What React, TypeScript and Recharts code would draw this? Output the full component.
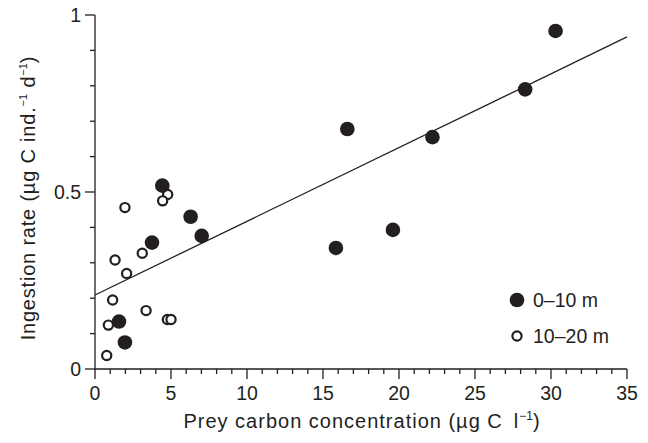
import React from "react";
import {
  ScatterChart,
  Scatter,
  XAxis,
  YAxis,
  ReferenceLine,
  Legend,
} from "recharts";

const INK = "#231f20";
const FONT = "'Liberation Sans', Arial, Helvetica, sans-serif";

// 0–10 m (filled)
const shallowX = [30.3, 28.3, 22.2, 16.6, 19.6, 15.85, 4.43, 6.29, 7.02, 3.75, 1.58, 1.97];
const shallowY = [0.955, 0.79, 0.655, 0.678, 0.393, 0.342, 0.518, 0.43, 0.376, 0.357, 0.134, 0.075];

// 10–20 m (open)
const deepX = [4.78, 4.45, 1.97, 3.11, 1.32, 2.08, 1.16, 3.36, 0.88, 4.76, 5.0, 0.77];
const deepY = [0.493, 0.475, 0.456, 0.327, 0.308, 0.27, 0.195, 0.165, 0.124, 0.14, 0.14, 0.038];

// regression line end points
const fitX = [0, 35];
const fitY = [0.209, 0.938];

const xTicks = Array.from({ length: 36 }, (_, i) => i);
const yTicks = Array.from({ length: 11 }, (_, i) => i / 10);

const toPoints = (xs: number[], ys: number[]) => xs.map((x, i) => ({ x, y: ys[i] }));

const shallow = toPoints(shallowX, shallowY);
const deep = toPoints(deepX, deepY);

const XTick = (props: any) => {
  const { x, y, payload } = props;
  const major = payload.value % 5 === 0;
  return (
    <g>
      <line x1={x} y1={y} x2={x} y2={y + (major ? 10 : 5)} stroke={INK} strokeWidth={1.3} />
      {major && (
        <text x={x} y={y + 31} textAnchor="middle" fontSize={19.5} fill={INK} fontFamily={FONT}>
          {payload.value}
        </text>
      )}
    </g>
  );
};

const YTick = (props: any) => {
  const { x, y, payload } = props;
  const v = Math.round(payload.value * 10);
  const major = v % 5 === 0;
  const label = v === 0 ? "0" : v === 10 ? "1" : "0.5";
  return (
    <g>
      <line x1={x} y1={y} x2={x - (major ? 10 : 5)} y2={y} stroke={INK} strokeWidth={1.3} />
      {major && (
        <text x={x - 14} y={y + 7} textAnchor="end" fontSize={19.5} fill={INK} fontFamily={FONT}>
          {label}
        </text>
      )}
    </g>
  );
};

const FilledDot = (props: any) => <circle cx={props.cx} cy={props.cy} r={7.3} fill={INK} />;
const OpenDot = (props: any) => (
  <circle cx={props.cx} cy={props.cy} r={4.6} fill="#fff" stroke={INK} strokeWidth={2.2} />
);

const XLabel = (props: any) => {
  const { x, y, width } = props.viewBox;
  return (
    <text
      x={x + width / 2 + 1}
      y={y + 59}
      textAnchor="middle"
      fontSize={20}
      letterSpacing={1}
      fill={INK}
      fontFamily={FONT}
    >
      Prey carbon concentration (µg C{"\u2002"}l
      <tspan dy={-8} fontSize={12} letterSpacing={0}>−1</tspan>
      <tspan dy={8}>)</tspan>
    </text>
  );
};

const YLabel = (props: any) => {
  const { y, height } = props.viewBox;
  const cx = 35;
  const cy = y + height / 2 + 6;
  return (
    <text
      x={cx}
      y={cy}
      transform={`rotate(-90, ${cx}, ${cy})`}
      textAnchor="middle"
      fontSize={20}
      letterSpacing={0.8}
      fill={INK}
      fontFamily={FONT}
    >
      Ingestion rate (µg C ind.
      <tspan dy={-8} fontSize={11} letterSpacing={0}>−1</tspan>
      <tspan dy={8}> d</tspan>
      <tspan dy={-8} fontSize={11} letterSpacing={0}>−1</tspan>
      <tspan dy={8}>)</tspan>
    </text>
  );
};

const LegendContent = () => (
  <div style={{ fontFamily: FONT, fontSize: 19.5, color: INK, lineHeight: "36px" }}>
    <div style={{ display: "flex", alignItems: "center" }}>
      <svg width={16} height={16} style={{ marginRight: 8 }}>
        <circle cx={8} cy={8} r={7.3} fill={INK} />
      </svg>
      0–10 m
    </div>
    <div style={{ display: "flex", alignItems: "center" }}>
      <svg width={16} height={16} style={{ marginRight: 8 }}>
        <circle cx={8} cy={8} r={4.6} fill="#fff" stroke={INK} strokeWidth={2.2} />
      </svg>
      10–20 m
    </div>
  </div>
);

export default function App() {
  return (
    <div style={{ margin: "-8px 0 0 -8px" }}>
      <ScatterChart
        width={648}
        height={443}
        margin={{ top: 15, right: 21, bottom: 0, left: 0 }}
        style={{ fontFamily: FONT }}
      >
        <XAxis
          type="number"
          dataKey="x"
          domain={[0, 35]}
          ticks={xTicks}
          interval={0}
          tickSize={0}
          tickMargin={0}
          tickLine={false}
          tick={<XTick />}
          axisLine={{ stroke: INK, strokeWidth: 1.3 }}
          height={74}
          label={<XLabel />}
        />
        <YAxis
          type="number"
          dataKey="y"
          domain={[0, 1]}
          ticks={yTicks}
          interval={0}
          tickSize={0}
          tickMargin={0}
          tickLine={false}
          tick={<YTick />}
          axisLine={{ stroke: INK, strokeWidth: 1.3 }}
          width={95}
          label={<YLabel />}
        />
        <ReferenceLine
          segment={[
            { x: fitX[0], y: fitY[0] },
            { x: fitX[1], y: fitY[1] },
          ]}
          stroke={INK}
          strokeWidth={1.3}
          ifOverflow="visible"
        />
        <Scatter data={deep} shape={<OpenDot />} isAnimationActive={false} />
        <Scatter data={shallow} shape={<FilledDot />} isAnimationActive={false} />
        <Legend
          content={<LegendContent />}
          layout="vertical"
          align="center"
          verticalAlign="middle"
          wrapperStyle={{ position: "absolute", left: 509, top: 282, width: 140 }}
        />
      </ScatterChart>
    </div>
  );
}
